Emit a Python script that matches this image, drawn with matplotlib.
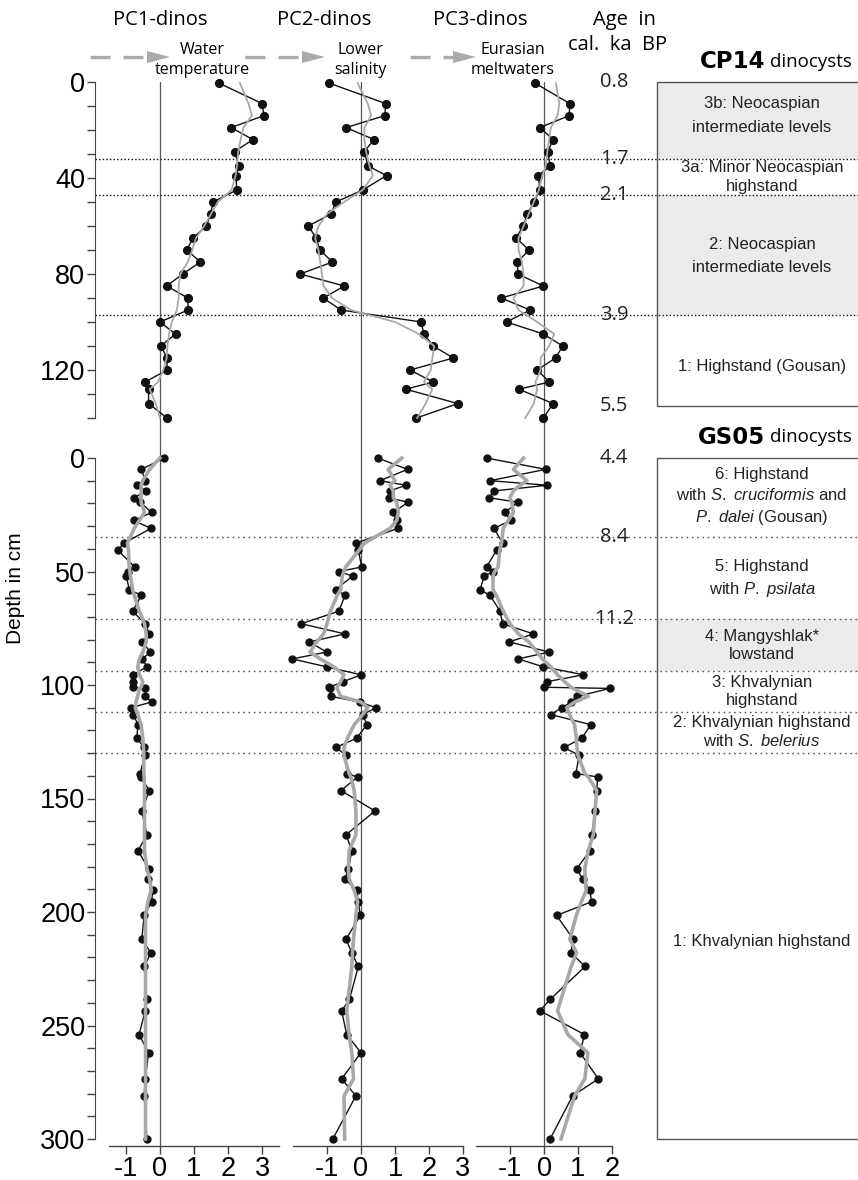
import numpy as np
import matplotlib.pyplot as plt
from matplotlib.patches import Rectangle, Polygon

plt.rcParams['mathtext.fontset'] = 'custom'
plt.rcParams['mathtext.rm'] = 'Liberation Sans'
plt.rcParams['mathtext.it'] = 'Liberation Sans:italic'
plt.rcParams['axes.unicode_minus'] = False

# ---- CP14 core (top) ----
cp14_depth = [0.5, 9, 14, 19, 24, 29, 35, 39, 45, 50, 55, 60, 65, 70, 75, 80, 85,
              90, 95, 100, 105, 110, 115, 120, 125, 128, 134, 140]
cp14_pc1 = [1.74, 3.0, 3.05, 2.09, 2.73, 2.19, 2.32, 2.24, 2.25, 1.56, 1.49, 1.36, 0.97,
            0.79, 1.19, 0.67, 0.2, 0.82, 0.83, 0.0, 0.46, 0.03, 0.21, 0.21, -0.43, -0.33,
            -0.33, 0.21]
cp14_pc1_smooth = [2.35, 2.6, 2.7, 2.45, 2.37, 2.3, 2.26, 2.22, 2.1, 1.7, 1.5, 1.3, 1.06,
                   0.95, 0.82, 0.6, 0.55, 0.55, 0.5, 0.35, 0.27, 0.22, 0.2, 0.1, -0.05,
                   -0.3, -0.12, 0.0]
cp14_pc2 = [-0.93, 0.73, 0.70, -0.44, 0.39, 0.09, 0.21, 0.75, 0.05, -0.74, -0.88, -1.55,
            -1.32, -1.21, -0.84, -1.79, -0.49, -1.11, -0.59, 1.77, 1.85, 2.12, 2.72, 1.44,
            2.12, 1.32, 2.85, 1.63]
cp14_pc2_smooth = [-0.1, 0.2, 0.3, 0.1, 0.1, 0.15, 0.25, 0.35, 0.05, -0.5, -1.0, -1.25,
                   -1.35, -1.25, -1.2, -1.15, -1.1, -0.85, -0.3, 1.0, 1.7, 2.15, 2.1, 2.05,
                   1.85, 2.1, 1.9, 1.65]
cp14_pc3 = [-0.26, 0.76, 0.74, -0.12, 0.27, 0.11, 0.18, -0.17, -0.12, -0.29, -0.49,
            -0.61, -0.82, -0.44, -0.78, -0.77, -0.02, -1.26, -0.41, -1.1, -0.02, 0.55,
            0.34, -0.2, 0.16, -0.74, 0.27, -0.02]
cp14_pc3_smooth = [0.35, 0.45, 0.4, 0.2, 0.15, 0.1, 0.05, -0.05, -0.15, -0.3, -0.45,
                   -0.6, -0.75, -0.75, -0.65, -0.6, -0.6, -0.9, -0.75, -0.2, 0.3, 0.15,
                   -0.1, -0.1, -0.25, -0.2, -0.3, -0.55]

# ---- GS05 core (bottom) ----
gs05_depth = [0, 5, 10, 12, 14.5, 17.5, 19.5, 24, 27.5, 31, 37.5, 40.5, 48, 50, 52, 58,
              60.5, 67.5, 73, 77.5, 81, 85.5, 88.5, 92, 95.5, 98.5, 101, 101.5, 105,
              107.5, 110, 113, 117.5, 123.5, 127.5, 131, 139, 140.5, 146.5, 155.5, 166,
              173, 181, 185.5, 190.5, 195.5, 201.5, 212, 218, 224, 238.5, 243.5, 254,
              262, 273.5, 281, 300]
gs05_pc1 = [0.13, -0.54, -0.43, -0.66, -0.41, -0.75, -0.58, -0.24, -0.77, -0.26, -1.05,
            -1.24, -0.74, -0.92, -0.98, -0.9, -0.54, -0.8, -0.43, -0.31, -0.51, -0.28,
            -0.51, -0.38, -0.78, -0.78, -0.78, -0.43, -0.43, -0.24, -0.85, -0.78, -0.64,
            -0.68, -0.46, -0.44, -0.58, -0.56, -0.31, -0.53, -0.38, -0.64, -0.33, -0.36,
            -0.21, -0.24, -0.46, -0.53, -0.26, -0.46, -0.39, -0.43, -0.61, -0.33, -0.43,
            -0.46, -0.38]
gs05_pc1_smooth = [0.0, -0.3, -0.5, -0.55, -0.55, -0.55, -0.55, -0.45, -0.6, -0.75,
                   -0.95, -0.92, -0.9, -0.88, -0.86, -0.8, -0.75, -0.6, -0.45, -0.4,
                   -0.4, -0.5, -0.6, -0.65, -0.6, -0.5, -0.55, -0.6, -0.65, -0.7, -0.72,
                   -0.65, -0.55, -0.5, -0.48, -0.47, -0.47, -0.46, -0.45, -0.45, -0.45,
                   -0.45, -0.38, -0.3, -0.25, -0.35, -0.42, -0.42, -0.42, -0.42, -0.42,
                   -0.42, -0.42, -0.42, -0.42, -0.42, -0.42]
gs05_pc2 = [0.49, 1.37, 0.56, 1.32, 0.85, 0.81, 1.39, 0.93, 1.05, 1.09, -0.15, -0.08,
            0.02, -0.64, -0.25, -0.74, -0.47, -0.65, -1.76, -0.47, -1.52, -1.01, -2.02,
            -1.01, 0.0, -0.52, -0.94, -0.9, -0.89, -0.03, 0.44, 0.05, 0.17, -0.13, -0.74,
            -0.44, -0.42, -0.1, -0.59, 0.41, -0.44, -0.27, -0.37, -0.47, -0.13, -0.08,
            -0.02, -0.44, -0.27, -0.08, -0.34, -0.57, -0.42, 0.0, -0.57, -0.15, -0.83]
gs05_pc2_smooth = [1.2, 0.8, 1.0, 0.85, 0.95, 0.95, 1.05, 1.1, 1.05, 0.85, 0.1, -0.05,
                   -0.45, -0.5, -0.55, -0.6, -0.7, -0.9, -1.0, -1.1, -1.3, -1.5, -1.2,
                   -0.8, -0.5, -0.6, -0.7, -0.7, -0.6, 0.0, 0.2, 0.05, -0.2, -0.4, -0.5,
                   -0.5, -0.35, -0.3, -0.2, -0.15, -0.15, -0.35, -0.37, -0.35, -0.2, -0.1,
                   -0.15, -0.22, -0.25, -0.27, -0.38, -0.42, -0.35, -0.27, -0.22, -0.5,
                   -0.48]
gs05_pc3 = [-1.69, 0.05, -1.59, 0.1, -1.47, -1.61, -0.77, -1.15, -0.98, -1.47, -1.22,
            -1.39, -1.69, -1.49, -1.76, -1.88, -1.59, -1.29, -1.22, -0.31, -1.02, 0.15,
            -0.76, -0.02, 1.16, 0.1, 0.0, 1.94, 0.98, 0.8, 0.52, 0.2, 1.38, 1.11, 0.59,
            1.03, 0.94, 1.58, 1.55, 1.5, 1.4, 1.35, 0.96, 1.14, 1.35, 1.4, 0.37, 0.86,
            0.79, 1.21, 0.18, -0.12, 1.19, 1.06, 1.6, 0.84, 0.18]
gs05_pc3_smooth = [-0.6, -0.9, -0.5, -0.7, -0.9, -1.0, -0.95, -0.9, -1.05, -1.2, -1.25,
                   -1.3, -1.35, -1.45, -1.5, -1.5, -1.4, -1.2, -1.0, -0.75, -0.45, -0.2,
                   -0.05, 0.2, 0.4, 0.6, 0.8, 0.85, 1.3, 0.9, 0.67, 0.75, 0.9, 0.95, 0.97,
                   1.0, 1.2, 1.3, 1.55, 1.5, 1.45, 1.3, 1.2, 1.22, 1.24, 1.1, 0.95, 0.76,
                   0.96, 0.8, 0.5, 0.4, 0.7, 1.29, 1.2, 0.9, 0.5]

# zone boundaries, ages and labels
cp14_bounds = [32, 47, 97]
cp14_shaded = [(0, 32), (47, 97)]
cp14_box_bottom = 135
cp14_age_depth = [0, 32, 47, 97, 135]
cp14_age = ['0.8', '1.7', '2.1', '3.9', '5.5']
cp14_zone_depth = [14, 39.5, 72.5, 118.5]
cp14_zones = ['3b: Neocaspian\nintermediate levels', '3a: Minor Neocaspian\nhighstand',
              '2: Neocaspian\nintermediate levels', '1: Highstand (Gousan)']
cp14_zone_ls = [1.7, 1.35, 1.6, 1.2]

gs05_bounds = [35, 71, 94, 112, 130]
gs05_shaded = [(71, 94)]
gs05_box_bottom = 300
gs05_age_depth = [0, 35, 71]
gs05_age = ['4.4', '8.4', '11.2']
gs05_zone_depth = [17.2, 53.3, 82.8, 103, 120.7, 213]
gs05_zones = ['6: Highstand\nwith $\\mathit{S.\\ cruciformis}$ and\n$\\mathit{P.\\ dalei}$ (Gousan)',
              '5: Highstand\nwith $\\mathit{P.\\ psilata}$',
              '4: Mangyshlak*\nlowstand',
              '3: Khvalynian\nhighstand',
              '2: Khvalynian highstand\nwith $\\mathit{S.\\ belerius}$',
              '1: Khvalynian highstand']
gs05_zone_ls = [1.35, 1.4, 1.25, 1.25, 1.25, 1.2]

W, H = 858, 1180
fig = plt.figure(figsize=(W / 100, H / 100), dpi=100)


def px_axes(x0, y0, x1, y1):
    return fig.add_axes([x0 / W, 1 - y1 / H, (x1 - x0) / W, (y1 - y0) / H])


TXT = 'Liberation Sans'
HDR = 'Open Sans'

# pixel overlay for headers and arrows
ov = fig.add_axes([0, 0, 1, 1])
ov.set_xlim(0, W)
ov.set_ylim(H, 0)
ov.axis('off')

for x, s in [(160, 'PC1-dinos'), (324, 'PC2-dinos'), (480, 'PC3-dinos'), (624, 'Age  in')]:
    ov.text(x, 20, s, ha='center', va='center', fontsize=14.5, family=HDR)
ov.text(618, 45, 'cal.  ka  BP', ha='center', va='center', fontsize=14.5, family=HDR)
for x, s in [(202, 'Water\ntemperature'), (360, 'Lower\nsalinity'), (513, 'Eurasian\nmeltwaters')]:
    ov.text(x, 60, s, ha='center', va='center', fontsize=11.5, family=HDR, linespacing=1.3)

arrows = [(90, 170), (245, 325), (410, 476)]
for xs, xt in arrows:
    ov.plot([xs, xt - 22], [57, 57], color='#aaaaaa', lw=2.4, dashes=(6.0, 3.9),
            solid_capstyle='butt', dash_capstyle='butt')
    ov.add_patch(Polygon([[xt, 57], [xt - 23, 51], [xt - 23, 63]], closed=True,
                         color='#aaaaaa', lw=0))

ov.text(16, 588, 'Depth in cm', rotation=90, ha='center', va='center', fontsize=15,
        family=TXT)

for y, name in [(62, 'CP14'), (437, 'GS05')]:
    ov.text(765, y, name, ha='right', va='center', fontsize=16.5, family='DejaVu Sans',
            weight='heavy')
    ov.text(770, y, 'dinocysts', ha='left', va='center', fontsize=13.5, family=HDR)

cores = [
    dict(y0=82, y1=418, dmax=140, depth=cp14_depth,
         series=[(cp14_pc1, cp14_pc1_smooth), (cp14_pc2, cp14_pc2_smooth),
                 (cp14_pc3, cp14_pc3_smooth)],
         bounds=cp14_bounds, shaded=cp14_shaded, box_bottom=cp14_box_bottom,
         age_depth=cp14_age_depth, age=cp14_age, zone_depth=cp14_zone_depth,
         zones=cp14_zones, zone_ls=cp14_zone_ls, major=[0, 40, 80, 120],
         dot_color='#111111', dots=(0, (1, 1.6)), smooth_lw=1.3, ms=5.6),
    dict(y0=458, y1=1139, dmax=300, depth=gs05_depth,
         series=[(gs05_pc1, gs05_pc1_smooth), (gs05_pc2, gs05_pc2_smooth),
                 (gs05_pc3, gs05_pc3_smooth)],
         bounds=gs05_bounds, shaded=gs05_shaded, box_bottom=gs05_box_bottom,
         age_depth=gs05_age_depth, age=gs05_age, zone_depth=gs05_zone_depth,
         zones=gs05_zones, zone_ls=gs05_zone_ls, major=[0, 50, 100, 150, 200, 250, 300],
         dot_color='#555555', dots=(0, (1.2, 2.6)), smooth_lw=2.6, ms=5.0),
]

cols = [(108.7, 279.2, (-1.5, 3.5), [-1, 0, 1, 2, 3]),
        (293, 463, (-2, 3), [-1, 0, 1, 2, 3]),
        (476, 612, (-2, 2), [-1, 0, 1, 2])]

BOX_X = (657 - 95) / (858 - 95)
AGE_X = (614 - 95) / (858 - 95)
ZONE_X = (762 - 95) / (858 - 95)

# background: dotted boundaries, zone boxes, ages
for c in cores:
    bg = px_axes(95, c['y0'], 858, c['y1'])
    bg.set_xlim(0, 1)
    bg.set_ylim(c['dmax'], 0)
    bg.axis('off')
    tr = bg.get_yaxis_transform()
    for a, b in c['shaded']:
        bg.add_patch(Rectangle((BOX_X, a), 0.3, b - a, transform=tr, facecolor='#ebebeb',
                               edgecolor='none', clip_on=False, zorder=0))
    bg.add_patch(Rectangle((BOX_X, 0), 0.3, c['box_bottom'], transform=tr, fill=False,
                           edgecolor='#555555', lw=1.0, clip_on=False, zorder=1))
    for d in c['bounds']:
        bg.axhline(d, xmin=0, xmax=1, color=c['dot_color'], lw=1.0, ls=c['dots'], zorder=2)
    for d, s in zip(c['age_depth'], c['age']):
        bg.text(AGE_X, d, s, transform=tr, ha='center', va='center', fontsize=14.5,
                family=HDR, color='#222222')
    for d, s, ls in zip(c['zone_depth'], c['zones'], c['zone_ls']):
        bg.text(ZONE_X, d, s, transform=tr, ha='center', va='center', fontsize=12,
                family=TXT, linespacing=ls, color='#222222')

# column frames: zero lines and x axes
for x0, x1, lim, ticks in cols:
    fr = px_axes(x0, 82, x1, 1146)
    fr.set_facecolor('none')
    fr.set_xlim(*lim)
    fr.set_ylim(0, 1)
    for side in ['top', 'left', 'right']:
        fr.spines[side].set_visible(False)
    fr.spines['bottom'].set_color('#444444')
    fr.spines['bottom'].set_linewidth(1.0)
    fr.set_yticks([])
    fr.set_xticks(ticks)
    fr.tick_params(axis='x', direction='out', length=6, width=1.0, color='#444444',
                   pad=1, labelsize=19.5)
    for lab in fr.get_xticklabels():
        lab.set_family(TXT)
    fr.axvline(0, color='#555555', lw=0.9)

# data
for c in cores:
    for (x0, x1, lim, ticks), (vals, smooth) in zip(cols, c['series']):
        da = px_axes(x0, c['y0'], x1, c['y1'])
        da.set_xlim(*lim)
        da.set_ylim(c['dmax'], 0)
        da.axis('off')
        da.plot(vals, c['depth'], '-o', color='#111111', lw=1.0, ms=c['ms'], clip_on=False)
        da.plot(smooth, c['depth'], color='#a8a8a8', lw=c['smooth_lw'], clip_on=False)

    # depth axis
    dx = px_axes(95, c['y0'], 105, c['y1'])
    dx.set_facecolor('none')
    dx.set_ylim(c['dmax'], 0)
    for side in ['top', 'bottom', 'right']:
        dx.spines[side].set_visible(False)
    dx.spines['left'].set_color('#444444')
    dx.set_xticks([])
    dx.set_yticks(c['major'])
    dx.set_yticks(np.arange(0, c['dmax'] + 1, 10), minor=True)
    dx.tick_params(axis='y', which='both', direction='out', length=6, width=1.0,
                   color='#444444', pad=1, labelsize=19.5)
    for lab in dx.get_yticklabels():
        lab.set_family(TXT)

fig.savefig('out.png', dpi=100)
